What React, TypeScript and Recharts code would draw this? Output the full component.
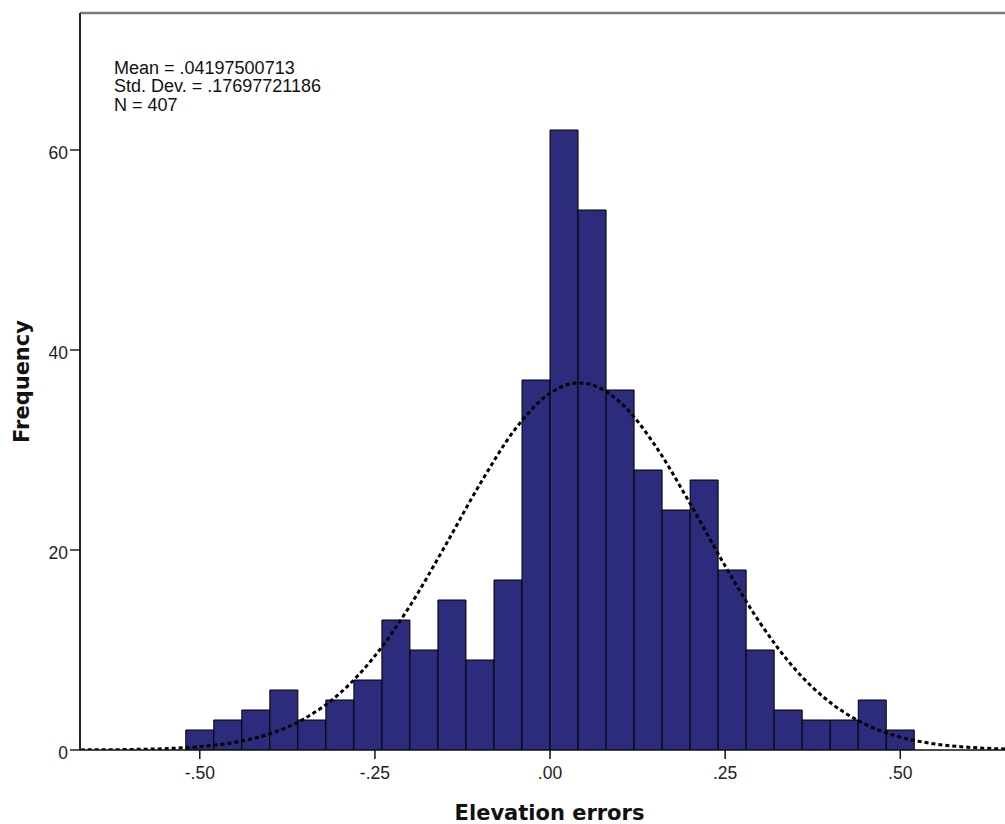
import React from "react";
import { ComposedChart, Bar, Line, XAxis, YAxis, Label } from "recharts";

// histogram bins (width .04) and their counts
const binCenters = [
  -0.5, -0.46, -0.42, -0.38, -0.34, -0.3, -0.26, -0.22, -0.18, -0.14, -0.1, -0.06, -0.02,
  0.02, 0.06, 0.1, 0.14, 0.18, 0.22, 0.26, 0.3, 0.34, 0.38, 0.42, 0.46, 0.5,
];
const binCounts = [2, 3, 4, 6, 3, 5, 7, 13, 10, 15, 9, 17, 37, 62, 54, 36, 28, 24, 27, 18, 10, 4, 3, 3, 5, 2];

// fitted normal curve
const curveX = [
  -0.7, -0.65, -0.6, -0.55, -0.5, -0.45, -0.4, -0.35, -0.3, -0.25, -0.2, -0.15, -0.1, -0.05, 0,
  0.04, 0.05, 0.1, 0.15, 0.2, 0.25, 0.3, 0.35, 0.4, 0.45, 0.5, 0.55, 0.6, 0.65, 0.7,
];
const curveY = [
  0.006, 0.018, 0.051, 0.137, 0.338, 0.77, 1.62, 3.16, 5.67, 9.41, 14.41, 20.38, 26.6, 32.06, 35.68,
  36.7, 36.66, 34.78, 30.46, 24.64, 18.4, 12.69, 8.07, 4.75, 2.58, 1.29, 0.6, 0.26, 0.1, 0.04,
];

const xTicks = [-0.5, -0.25, 0, 0.25, 0.5];
const xTickLabels = ["-.50", "-.25", ".00", ".25", ".50"];
const yTicks = [0, 20, 40, 60];
const statsLines = ["Mean = .04197500713", "Std. Dev. = .17697721186", "N = 407"];

const histData = binCenters.map((x, i) => ({ x, count: binCounts[i] }));
const curveData = curveX.map((x, i) => ({ x, freq: curveY[i] }));

// the frame runs past the right edge of the picture
const xDomain = [-0.671, 0.6495];
const tickFont = { fill: "#222", fontSize: 17.5, fontFamily: "'Liberation Sans', Arial, sans-serif" };
const titleFont = "'DejaVu Sans', Verdana, sans-serif";

export default function App() {
  return (
    <div
      style={{
        position: "fixed",
        left: 0,
        top: 0,
        width: 1005,
        height: 824,
        overflow: "hidden",
        background: "#fff",
      }}
    >
      <ComposedChart
        width={1005}
        height={824}
        data={histData}
        margin={{ top: 12, right: 0, bottom: 0, left: 0 }}
        barCategoryGap={0}
        barGap={0}
      >
        <XAxis
          xAxisId="bins"
          dataKey="x"
          type="number"
          domain={xDomain}
          allowDataOverflow
          ticks={xTicks}
          tickFormatter={(v) => xTickLabels[xTicks.indexOf(v)]}
          height={74}
          tickSize={9}
          tickMargin={8}
          axisLine={{ stroke: "#111", strokeWidth: 1.5 }}
          tickLine={{ stroke: "#111", strokeWidth: 1.5 }}
          tick={tickFont}
        >
          <Label
            content={() => (
              <text x={549.5} y={820} textAnchor="middle" fontFamily={titleFont} fontWeight="bold" fontSize={21} fill="#111">
                Elevation errors
              </text>
            )}
          />
        </XAxis>
        <XAxis
          xAxisId="curve"
          dataKey="x"
          type="number"
          orientation="top"
          domain={xDomain}
          allowDataOverflow
          height={1}
          tick={false}
          tickLine={false}
          axisLine={{ stroke: "#7b7b7b", strokeWidth: 2.5 }}
        />
        <YAxis
          type="number"
          domain={[0, 73.7]}
          allowDataOverflow
          ticks={yTicks}
          width={80}
          tickSize={10}
          tickMargin={2}
          axisLine={{ stroke: "#222", strokeWidth: 2 }}
          tickLine={{ stroke: "#222", strokeWidth: 1.5 }}
          tick={{ ...tickFont, dy: 3 }}
        >
          <Label
            content={() => (
              <text
                x={29}
                y={381.5}
                transform="rotate(-90 29 381.5)"
                textAnchor="middle"
                fontFamily={titleFont}
                fontWeight="bold"
                fontSize={21}
                fill="#111"
              >
                Frequency
              </text>
            )}
          />
        </YAxis>
        <Bar
          xAxisId="bins"
          dataKey="count"
          fill="#2c2b7c"
          stroke="#000"
          strokeWidth={1}
          isAnimationActive={false}
        />
        <Line
          xAxisId="curve"
          data={curveData}
          dataKey="freq"
          type="monotone"
          stroke="#000"
          strokeWidth={3}
          strokeDasharray="4 3"
          dot={false}
          activeDot={false}
          isAnimationActive={false}
        />
      </ComposedChart>
      <div
        style={{
          position: "absolute",
          left: 114,
          top: 58.5,
          fontFamily: "'Liberation Sans', Arial, sans-serif",
          fontSize: 18,
          lineHeight: "18.5px",
          color: "#111",
          whiteSpace: "pre",
        }}
      >
        {statsLines.map((s) => (
          <div key={s}>{s}</div>
        ))}
      </div>
    </div>
  );
}
